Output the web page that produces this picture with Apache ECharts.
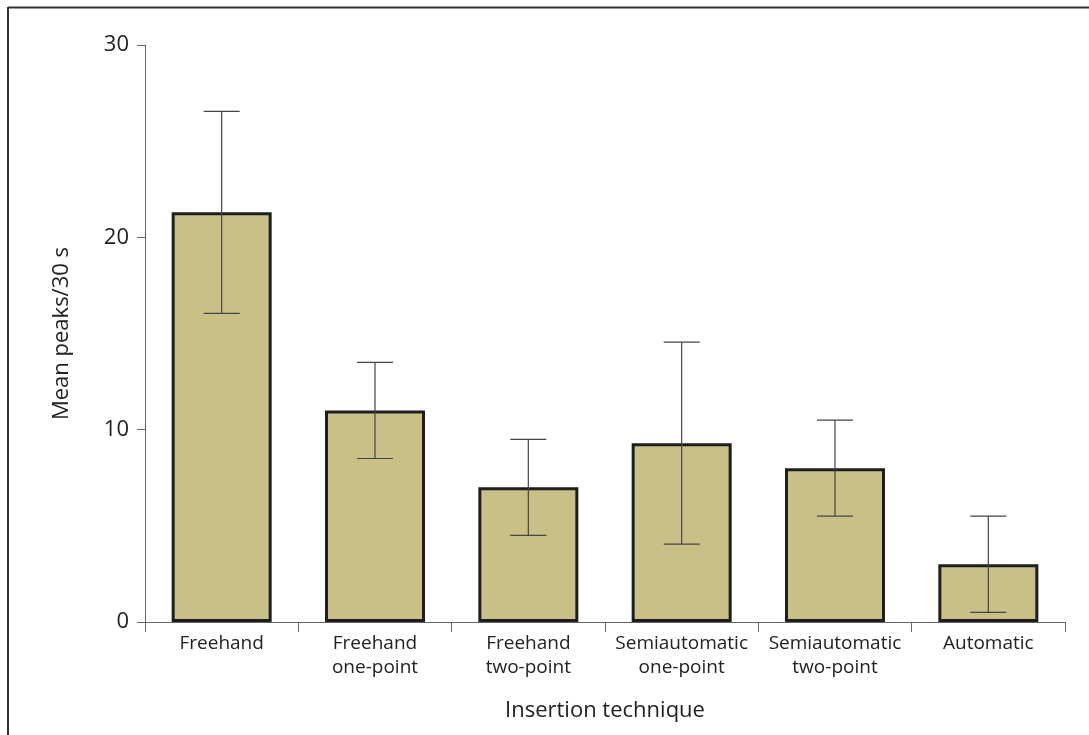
<!DOCTYPE html>
<html>
<head>
<meta charset="utf-8">
<script src="https://cdn.jsdelivr.net/npm/echarts@6/dist/echarts.min.js"></script>
<style>
  html, body { margin: 0; padding: 0; background: #fff; }
  #chart { width: 1089px; height: 735px; }
</style>
</head>
<body>
<div id="chart"></div>
<script>
// Insertion techniques on the x axis
var categories = [
  'Freehand',
  'Freehand\none-point',
  'Freehand\ntwo-point',
  'Semiautomatic\none-point',
  'Semiautomatic\ntwo-point',
  'Automatic'
];
// Mean peaks per 30 s and the spread shown by the whiskers
var meanPeaks = [21.3, 11.0, 7.0, 9.3, 8.0, 3.0];
var spread = [5.25, 2.5, 2.5, 5.25, 2.5, 2.5];
var yTicks = [0, 10, 20, 30];

var errorData = categories.map(function (c, i) {
  return [i, meanPeaks[i] - spread[i], meanPeaks[i] + spread[i]];
});

var fontFamily = '"Open Sans", "Noto Sans", sans-serif';
var chart = echarts.init(document.getElementById('chart'), null, { renderer: 'canvas' });

chart.setOption({
  animation: false,
  backgroundColor: '#ffffff',
  grid: { left: 145, right: 24, top: 45, bottom: 113, containLabel: false },
  xAxis: {
    type: 'category',
    data: categories,
    name: 'Insertion technique',
    nameLocation: 'middle',
    nameGap: 78,
    nameTextStyle: { fontFamily: fontFamily, fontSize: 22, color: '#222' },
    axisLine: { lineStyle: { color: '#666', width: 1 } },
    axisTick: { show: true, length: 10, alignWithLabel: false, lineStyle: { color: '#666' } },
    axisLabel: { fontFamily: fontFamily, fontSize: 19, color: '#222', margin: 10, lineHeight: 24, interval: 0 }
  },
  yAxis: {
    type: 'value',
    min: yTicks[0],
    max: yTicks[yTicks.length - 1],
    interval: 10,
    name: 'Mean peaks/30 s',
    nameLocation: 'middle',
    nameGap: 72,
    nameRotate: 90,
    nameTextStyle: { fontFamily: fontFamily, fontSize: 22, color: '#222' },
    axisLine: { show: true, lineStyle: { color: '#666', width: 1 } },
    axisTick: { show: true, length: 8, lineStyle: { color: '#666' } },
    axisLabel: { fontFamily: fontFamily, fontSize: 22, color: '#222', margin: 16 },
    splitLine: { show: false }
  },
  series: [
    {
      type: 'bar',
      data: meanPeaks,
      barWidth: 100,
      itemStyle: { color: '#c8c086', borderColor: '#1e1e1e', borderWidth: 3 }
    },
    {
      type: 'custom',
      data: errorData,
      z: 10,
      renderItem: function (params, api) {
        var x = api.value(0);
        var lo = api.coord([x, api.value(1)]);
        var hi = api.coord([x, api.value(2)]);
        var half = 18;
        var style = { stroke: '#444', lineWidth: 1.2 };
        return {
          type: 'group',
          children: [
            { type: 'line', shape: { x1: hi[0], y1: hi[1], x2: lo[0], y2: lo[1] }, style: style },
            { type: 'line', shape: { x1: hi[0] - half, y1: hi[1], x2: hi[0] + half, y2: hi[1] }, style: style },
            { type: 'line', shape: { x1: lo[0] - half, y1: lo[1], x2: lo[0] + half, y2: lo[1] }, style: style }
          ]
        };
      }
    }
  ],
  graphic: [
    { type: 'line', shape: { x1: 8, y1: 7.5, x2: 1089, y2: 7.5 }, style: { stroke: '#333', lineWidth: 2 } },
    { type: 'line', shape: { x1: 8, y1: 7, x2: 8, y2: 735 }, style: { stroke: '#333', lineWidth: 2 } }
  ]
});
</script>
</body>
</html>
